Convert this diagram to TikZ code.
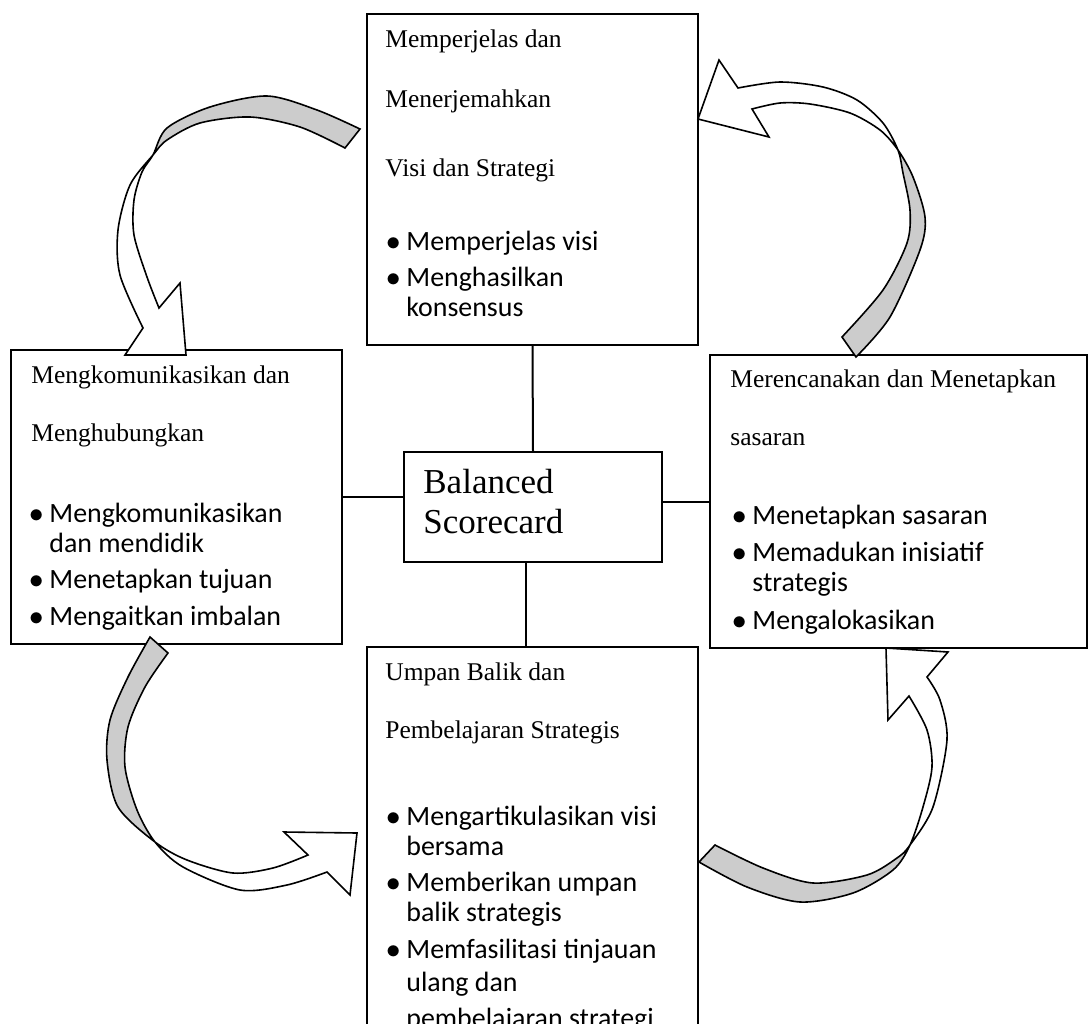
\documentclass[tikz,border=0pt]{standalone}
\usepackage{fontspec}
\setmainfont{Liberation Serif}
\newfontfamily\calfont{Carlito}
\usetikzlibrary{positioning}

\newcommand{\hdfont}{\fontsize{12.75}{29}\selectfont}
\newcommand{\blfont}{\calfont\fontsize{13.95}{15}\selectfont}
\newcommand{\bl}{\makebox[10pt][l]{$\bullet$}}
\newcommand{\ind}{\hspace*{10pt}}

% outlines of the four curved arrows (tail lobe, crossing, head lobe)
\newcommand{\tlarrow}{plot[smooth] coordinates {(360,129) (317,110) (267,96) (210,107) (167,128) (153,155) (142,172) (134,200) (134,235) (147,277) (159,308)}
    -- (180,283) -- (186,355) -- (125,355) -- (143,328)
    -- plot[smooth] coordinates {(143,328) (120,275) (118,230) (130,185) (153,155) (167,140) (200,123) (250,117) (300,127) (345,148)} -- cycle}
\newcommand{\trarrow}{plot[smooth] coordinates {(856,357) (890,317) (920,250) (925,217) (913,177) (898,150) (880,130) (850,113) (810,104) (780,103) (752,109)}
    -- (769,137) -- (698,119) -- (719,60) -- (738,88)
    -- plot[smooth] coordinates {(738,88) (780,82) (823,87) (857,100) (883,123) (898,150) (903,173) (910,210) (907,243) (883,290) (842,337)} -- cycle}
\newcommand{\blarrow}{plot[smooth] coordinates {(150,637) (128,677) (110,720) (107,760) (118,807) (155,842) (187,860) (233,873) (273,868) (308,855)}
    -- (284,832) -- (357,833) -- (350,895) -- (327,872)
    -- plot[smooth] coordinates {(327,872) (287,885) (240,890) (183,867) (155,842) (137,810) (125,767) (128,727) (145,687) (168,653)} -- cycle}
\newcommand{\brarrow}{plot[smooth] coordinates {(699,862) (747,887) (800,902) (853,893) (893,870) (910,845) (923,807) (932,767) (927,730) (909,696)}
    -- (888,720) -- (886,648) -- (948,652) -- (927,677)
    -- plot[smooth] coordinates {(927,677) (940,700) (947,740) (933,807) (910,845) (897,858) (867,875) (813,883) (763,868) (715,845)} -- cycle}

\begin{document}
\begin{tikzpicture}[x=0.5pt, y=-0.5pt,
    box/.style={draw, line width=1pt, fill=white, anchor=north west, inner sep=0pt},
    head/.style={anchor=base west, inner sep=0pt, font=\hdfont},
    items/.style={anchor=base west, inner sep=0pt, font=\blfont},
    frontband/.style={fill=white},
    backband/.style={fill=black!20},
    rim/.style={draw, line width=0.8pt, line join=miter},
    link/.style={line width=1pt}]
    \useasboundingbox (0,0) rectangle (1089,1024);
    \clip (0,0) rectangle (1089,1024);

    % the four boxes and the centre
    \node[box, minimum width=165.5pt, minimum height=165.5pt] (vision) at (366,13) {};
    \node[box, minimum width=165.5pt, minimum height=147pt] (comm) at (10,349) {};
    \node[box, minimum width=188.5pt, minimum height=146.5pt] (plan) at (709,354) {};
    \node[box, minimum width=165.5pt, minimum height=210pt] (learn) at (366,646) {};
    \node[box, minimum width=129pt, minimum height=55pt] (bsc) at (403,451) {};

    \draw[link] (vision.south) -- (bsc.north);
    \draw[link] (comm.east) -- (comm.east -| bsc.west);
    \draw[link] (plan.west) -- (plan.west -| bsc.east);
    \draw[link] ([xshift=-3.5pt]bsc.south) -- ([xshift=-3.5pt]bsc.south |- learn.north);

    % texts
    \node[anchor=base west, inner sep=0pt, font=\fontsize{17.5}{20}\selectfont] (bsctext) at (423,493)
        {\begin{tabular}[t]{@{}l@{}}Balanced\\Scorecard\end{tabular}};

    \node[head, font=\fontsize{12.75}{30}\selectfont] (visionhead) at (385,47)
        {\begin{tabular}[t]{@{}l@{}}Memperjelas dan\\Menerjemahkan\\[4.5pt]Visi dan Strategi\end{tabular}};
    \node[items] (visionitems) at (386,250)
        {\begin{tabular}[t]{@{}l@{}}\bl Memperjelas visi\\[3.3pt]\bl Menghasilkan\\\ind konsensus\end{tabular}};

    \node[head] (commhead) at (31,383)
        {\begin{tabular}[t]{@{}l@{}}Mengkomunikasikan dan\\Menghubungkan\end{tabular}};
    \node[items] (commitems) at (29,522)
        {\begin{tabular}[t]{@{}l@{}}\bl Mengkomunikasikan\\\ind dan mendidik\\[3.3pt]\bl Menetapkan tujuan\\[3.3pt]\bl Mengaitkan imbalan\end{tabular}};

    \node[head] (planhead) at (730,387)
        {\begin{tabular}[t]{@{}l@{}}Merencanakan dan Menetapkan\\sasaran\end{tabular}};
    \node[items] (planitems) at (732,524)
        {\begin{tabular}[t]{@{}l@{}}\bl Menetapkan sasaran\\[3.8pt]\bl Memadukan inisiatif\\\ind strategis\\[3.8pt]\bl Mengalokasikan\end{tabular}};

    \node[head] (learnhead) at (385,680)
        {\begin{tabular}[t]{@{}l@{}}Umpan Balik dan\\Pembelajaran Strategis\end{tabular}};
    \node[items] (learnitems) at (386,825)
        {\begin{tabular}[t]{@{}l@{}}\bl Mengartikulasikan visi\\\ind bersama\\[3.3pt]\bl Memberikan umpan\\\ind balik strategis\\[3.3pt]\bl Memfasilitasi tinjauan\\[1.5pt]\ind ulang dan\\[3pt]\ind pembelajaran strategi\end{tabular}};

    % curved arrows: white body, grey back lobe, then the rim
    \fill[frontband] \tlarrow;
    \begin{scope}
        \clip (0,0) rectangle (1089,155);
        \fill[backband] \tlarrow;
    \end{scope}
    \path[rim] \tlarrow;

    \fill[frontband] \trarrow;
    \begin{scope}
        \clip (0,150) rectangle (1089,1024);
        \fill[backband] \trarrow;
    \end{scope}
    \path[rim] \trarrow;

    \fill[frontband] \blarrow;
    \begin{scope}
        \clip (0,0) rectangle (200,842);
        \fill[backband] \blarrow;
    \end{scope}
    \path[rim] \blarrow;

    \fill[frontband] \brarrow;
    \begin{scope}
        \clip (0,845) rectangle (1089,1024);
        \fill[backband] \brarrow;
    \end{scope}
    \path[rim] \brarrow;
\end{tikzpicture}
\end{document}
